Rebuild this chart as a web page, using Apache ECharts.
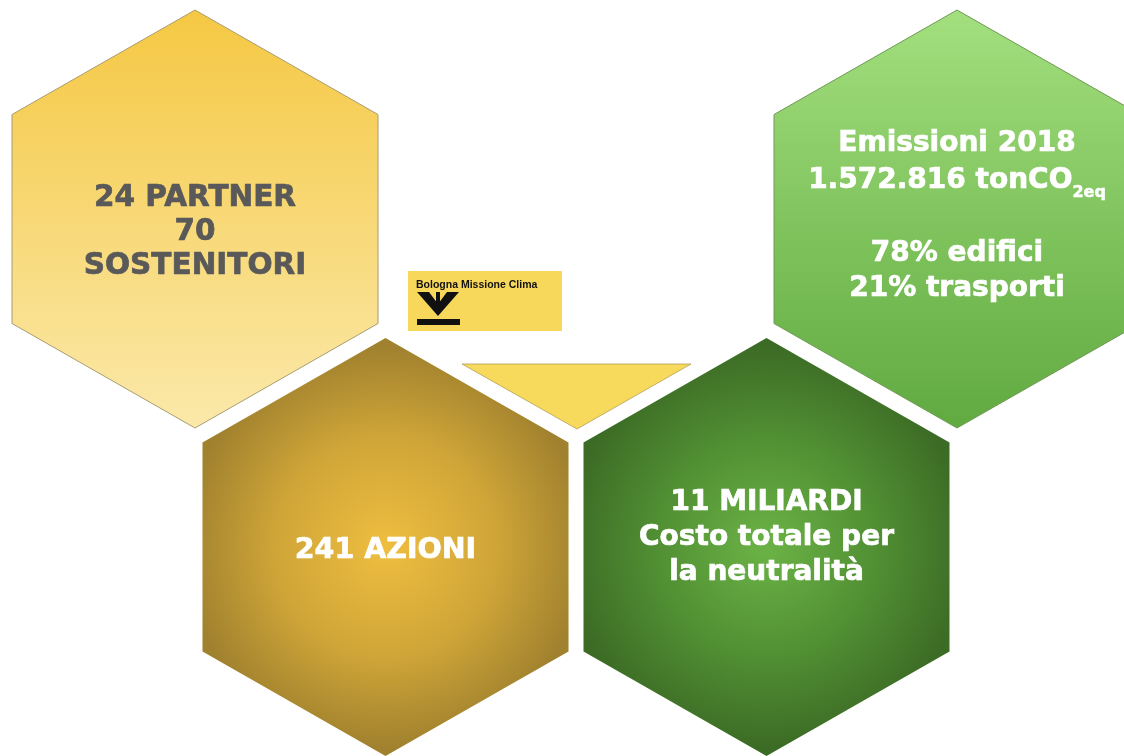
<!DOCTYPE html>
<html lang="it">

<head>
    <meta charset="UTF-8">
    <title>Bologna Missione Clima</title>
    <script src="https://cdn.jsdelivr.net/npm/echarts@6/dist/echarts.min.js"></script>
    <style>
        html, body { margin: 0; padding: 0; background: #fff; }
    </style>
</head>

<body>
    <div id="main" style="width: 1124px; height: 756px;"></div>
    <script>
        // honeycomb cells: column / row index in the grid, plus their text
        const cellCols = [1, 2, 4, 5];
        const cellRows = [0, 1, 1, 0];
        const cellTexts = [
            '24 PARTNER\n70\nSOSTENITORI',
            '241 AZIONI',
            '11 MILIARDI\nCosto totale per\nla neutralità',
            'Emissioni 2018\n{b|1.572.816 tonCO}{sub|2eq}\n\n78% edifici\n21% trasporti'
        ];
        // the small yellow triangle between the lower cells
        const triangleCell = [3, 0.5];
        const logoText = 'Bologna Missione Clima';

        // layout of the grid in pixels
        const COL_W = 190.5, X0 = 4.5;
        const ROW_H = 328, Y0 = 219;
        const HEX_R = 209;
        const HEX_HALF_W = 183;
        const FONT = '"DejaVu Sans", Verdana, sans-serif';

        const cellStyles = [
            {
                fill: new echarts.graphic.LinearGradient(0, 0, 0, 1, [
                    { offset: 0, color: '#F5C843' },
                    { offset: 1, color: '#FBE9AA' }
                ]),
                stroke: '#A89C70', text: '#595959', dy: 13, size: 29.5, lh: 34
            },
            {
                fill: new echarts.graphic.RadialGradient(0.5, 0.5, 0.55, [
                    { offset: 0, color: '#EFBE3F' },
                    { offset: 0.55, color: '#CFA538' },
                    { offset: 1, color: '#A0812E' }
                ]),
                stroke: null, text: '#ffffff', dy: 4, size: 28.5, lh: 35
            },
            {
                fill: new echarts.graphic.RadialGradient(0.5, 0.5, 0.55, [
                    { offset: 0, color: '#6BB346' },
                    { offset: 0.55, color: '#518F33' },
                    { offset: 1, color: '#3C6B25' }
                ]),
                stroke: null, text: '#ffffff', dy: -9, size: 28, lh: 35
            },
            {
                fill: new echarts.graphic.LinearGradient(0, 0, 0, 1, [
                    { offset: 0, color: '#A3DF7E' },
                    { offset: 1, color: '#60AA40' }
                ]),
                stroke: '#6E9A55', text: '#ffffff', dy: -3, size: 28, lh: 35
            }
        ];

        function hexPoints(cx, cy) {
            return [
                [cx, cy - HEX_R],
                [cx + HEX_HALF_W, cy - HEX_R / 2],
                [cx + HEX_HALF_W, cy + HEX_R / 2],
                [cx, cy + HEX_R],
                [cx - HEX_HALF_W, cy + HEX_R / 2],
                [cx - HEX_HALF_W, cy - HEX_R / 2]
            ];
        }

        function renderHex(params, api) {
            const i = params.dataIndex;
            const c = api.coord([api.value(0), api.value(1)]);
            const st = cellStyles[i];
            return {
                type: 'group',
                children: [
                    {
                        type: 'polygon',
                        shape: { points: hexPoints(c[0], c[1]) },
                        style: { fill: st.fill, stroke: st.stroke, lineWidth: st.stroke ? 1 : 0 }
                    },
                    {
                        type: 'text',
                        style: {
                            text: cellTexts[i],
                            x: c[0], y: c[1] + st.dy,
                            align: 'center', verticalAlign: 'middle',
                            fill: st.text, stroke: st.text, lineWidth: 0.7,
                            fontFamily: FONT, fontWeight: 'bold', fontSize: st.size,
                            lineHeight: st.lh,
                            rich: {
                                b: { fontFamily: FONT, fontWeight: 'bold', fontSize: st.size, lineHeight: 40, fill: st.text, stroke: st.text, lineWidth: 0.7 },
                                sub: { fontFamily: FONT, fontWeight: 'bold', fontSize: 16, lineHeight: 12, verticalAlign: 'bottom', fill: st.text, stroke: st.text, lineWidth: 0.5 }
                            }
                        }
                    }
                ]
            };
        }

        function renderTriangle(params, api) {
            const c = api.coord([api.value(0), api.value(1)]);
            return {
                type: 'polygon',
                shape: { points: [[c[0] - 114, c[1] - 19], [c[0] + 115, c[1] - 19], [c[0] + 1, c[1] + 46]] },
                style: { fill: '#F7D95B', stroke: '#B59F55', lineWidth: 0.8 }
            };
        }

        const chart = echarts.init(document.getElementById('main'));
        chart.setOption({
            animation: false,
            grid: { left: 0, right: 0, top: 0, bottom: 0 },
            xAxis: { type: 'value', min: -X0 / COL_W, max: (1124 - X0) / COL_W, show: false },
            yAxis: { type: 'value', inverse: true, min: -Y0 / ROW_H, max: (756 - Y0) / ROW_H, show: false },
            series: [
                {
                    type: 'custom',
                    renderItem: renderTriangle,
                    data: [triangleCell]
                },
                {
                    type: 'custom',
                    renderItem: renderHex,
                    data: cellCols.map((col, i) => [col, cellRows[i]])
                }
            ],
            graphic: [
                {
                    type: 'group', left: 408, top: 271,
                    children: [
                        { type: 'rect', shape: { x: 0, y: 0, width: 154, height: 60 }, style: { fill: '#F7D85B' } },
                        {
                            type: 'text', x: 8, y: 14,
                            style: { text: logoText, fill: '#111', font: 'bold 10.5px "Liberation Sans", Arial, sans-serif', verticalAlign: 'middle' }
                        },
                        {
                            type: 'polygon',
                            shape: { points: [[9, 21], [21, 21], [30, 33], [39, 21], [51, 21], [30, 45]] },
                            style: { fill: '#111' }
                        },
                        { type: 'rect', shape: { x: 28, y: 21, width: 4, height: 22 }, style: { fill: '#111' } },
                        { type: 'rect', shape: { x: 9, y: 48, width: 43, height: 6 }, style: { fill: '#111' } }
                    ]
                }
            ]
        });
    </script>
</body>
</html>
